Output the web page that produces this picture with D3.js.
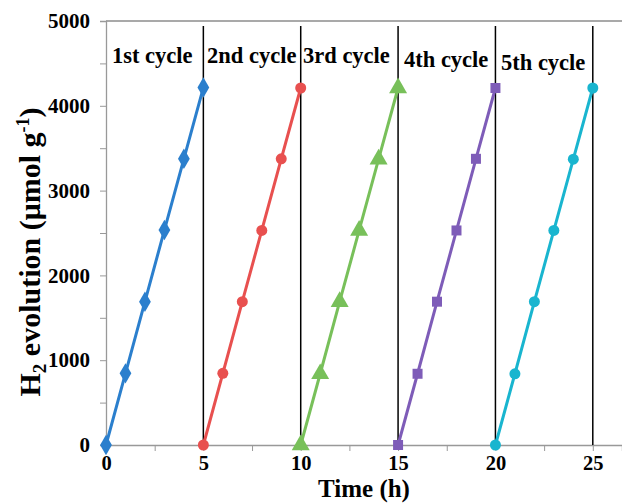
<!DOCTYPE html>
<html><head><meta charset="utf-8">
<script src="https://cdn.jsdelivr.net/npm/d3@7"></script>
<style>body{margin:0;background:#fff}svg{display:block}</style>
</head><body><svg id="c" width="622" height="504"></svg>
<script>
const cycleLabels = ["1st cycle","2nd cycle","3rd cycle","4th cycle","5th cycle"];
const cycleStarts = [0,5,10,15,20];
const hoursInCycle = [0,1,2,3,4,5];
const seriesValues = [
  [0,845,1690,2535,3375,4215],
  [0,845,1690,2530,3375,4210],
  [0,840,1690,2530,3370,4210],
  [0,840,1690,2530,3375,4210],
  [0,840,1690,2530,3370,4210]
];
const colors = ["#2b7fcd","#e8504f","#78c05a","#7e5cb8","#19b5cf"];
const markers = ["diamond","circle","triangle","square","circle"];
const separators = [5,10,15,20,25];
const xTicks = [0,5,10,15,20,25];
const yTicks = [0,1000,2000,3000,4000,5000];

const svg = d3.select("#c");
const L=106, T=21, R=622, B=445;
const x = d3.scaleLinear().domain([0,26.5]).range([L,R]);
const y = d3.scaleLinear().domain([0,5000]).range([B,T]);
const font = "'Liberation Serif','Times New Roman',serif";

// top border
svg.append("line").attr("x1",L).attr("x2",R).attr("y1",T).attr("y2",T).attr("stroke","#555").attr("stroke-width",1.2);

// x axis
const xa = svg.append("g").attr("transform",`translate(0,${B})`)
  .call(d3.axisBottom(x).tickValues(d3.range(0,26.5,2.5)).tickSize(6).tickFormat(d=>xTicks.includes(d)?d:""));
xa.select(".domain").attr("stroke","#999").attr("stroke-width",1.3);
xa.selectAll(".tick line").attr("stroke","#999");
xa.selectAll("text").attr("font-family",font).attr("font-weight","bold").attr("font-size",20.5).attr("fill","#000").attr("dy","0.8em");

// y axis
const ya = svg.append("g").attr("transform",`translate(${L},0)`)
  .call(d3.axisLeft(y).tickValues(d3.range(0,5001,500)).tickSize(6).tickFormat(d=>yTicks.includes(d)?d:""));
ya.select(".domain").attr("stroke","#999").attr("stroke-width",1.3);
ya.selectAll(".tick line").attr("stroke","#999");
ya.selectAll("text").attr("font-family",font).attr("font-weight","bold").attr("font-size",21).attr("fill","#000").attr("x",-16);

// separators
svg.selectAll("line.sep").data(separators).join("line").attr("class","sep")
  .attr("x1",d=>x(d)).attr("x2",d=>x(d)).attr("y1",y(4940)).attr("y2",B)
  .attr("stroke","#000").attr("stroke-width",1.5);

// series
const line = d3.line().x(d=>x(d[0])).y(d=>y(d[1]));
seriesValues.forEach((vals,i)=>{
  const pts = vals.map((v,j)=>[cycleStarts[i]+hoursInCycle[j], v]);
  svg.append("path").datum(pts).attr("d",line).attr("fill","none").attr("stroke",colors[i]).attr("stroke-width",3);
  const symType = {diamond:d3.symbolDiamond,circle:d3.symbolCircle,triangle:d3.symbolTriangle,square:d3.symbolSquare}[markers[i]];
  const size = {diamond:120,circle:95,triangle:140,square:100}[markers[i]];
  svg.selectAll(null).data(pts).join("path")
    .attr("transform",d=>`translate(${x(d[0])},${y(d[1])})`)
    .attr("d",d3.symbol().type(symType).size(size)).attr("fill",colors[i]);
});

// cycle labels
const labelPos = [[112,63],[207,63],[303,63],[404,67],[501,70]];
cycleLabels.forEach((t,i)=>{
  svg.append("text").attr("x",labelPos[i][0]).attr("y",labelPos[i][1]).text(t)
    .attr("font-family",font).attr("font-weight","bold").attr("font-size",22.5).attr("fill","#000");
});

// axis titles
svg.append("text").attr("x",364).attr("y",497).attr("text-anchor","middle")
  .attr("font-family",font).attr("font-weight","bold").attr("font-size",25).text("Time (h)");
const yt = svg.append("text").attr("transform","translate(40,252) rotate(-90)").attr("text-anchor","middle")
  .attr("font-family",font).attr("font-weight","bold").attr("font-size",30);
yt.append("tspan").text("H");
yt.append("tspan").attr("font-size",19).attr("dy",6).text("2");
yt.append("tspan").attr("dy",-6).text(" evolution (μmol g");
yt.append("tspan").attr("font-size",18).attr("dy",-11).text("-1");
yt.append("tspan").attr("dy",11).text(")");
</script></body></html>
